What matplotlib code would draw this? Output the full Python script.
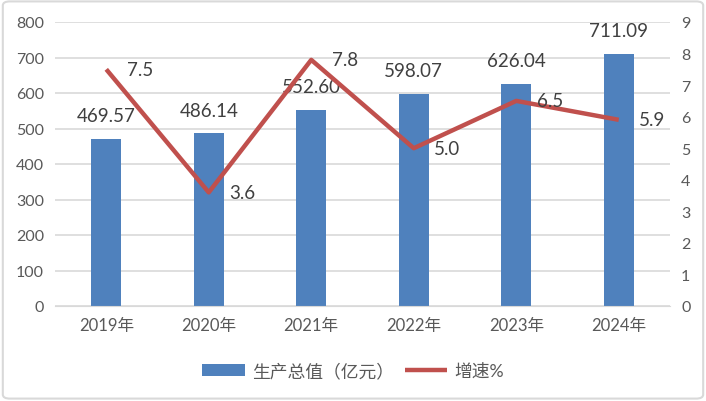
import matplotlib.pyplot as plt
import numpy as np
from matplotlib.patches import FancyBboxPatch

years = ['2019年', '2020年', '2021年', '2022年', '2023年', '2024年']
output = [469.57, 486.14, 552.60, 598.07, 626.04, 711.09]
growth = [7.5, 3.6, 7.8, 5.0, 6.5, 5.9]

plt.rcParams['font.family'] = ['Lato', 'Noto Sans CJK SC', 'DejaVu Sans']
txt = '#404040'
tick_c = '#595959'

fig = plt.figure(figsize=(7.06, 4.02), dpi=100)
ax = fig.add_axes([55/706, 1-307/402, 615/706, 284/402])
x = np.arange(len(years))

ax.bar(x, output, width=0.29, color='#4F81BD', zorder=2, label='生产总值（亿元）')
ax.set_xlim(-0.5, len(years)-0.5)
ax.set_ylim(0, 800)
ax.set_yticks(range(0, 801, 100))
ax.yaxis.grid(True, color='#D9D9D9', lw=1.2, zorder=0)
ax.set_axisbelow(True)
for s in ax.spines.values():
    s.set_visible(False)
ax.spines['bottom'].set_visible(True)
ax.spines['bottom'].set_color('#D9D9D9')
ax.tick_params(length=0, labelsize=11.5, colors=tick_c, pad=8)
ax.set_xticks(x)
ax.set_xticklabels(years, fontsize=12, color=tick_c)
ax.tick_params(axis='x', pad=8)

for xi, v in zip(x, output):
    ax.text(xi, v + 42, f'{v:.2f}', ha='center', va='bottom', fontsize=13.5, color=txt, zorder=4)

ax2 = ax.twinx()
ax2.plot(x, growth, color='#C0504D', lw=3.2, zorder=3, label='增速%', solid_capstyle='butt')
ax2.set_ylim(0, 9)
ax2.set_yticks(range(0, 10))
for s in ax2.spines.values():
    s.set_visible(False)
ax2.tick_params(length=0, labelsize=11.5, colors=tick_c, pad=8)
for xi, v in zip(x, growth):
    ax2.text(xi + 0.2, v, f'{v:.1f}', ha='left', va='center', fontsize=13.5, color=txt, zorder=4)

h1, l1 = ax.get_legend_handles_labels()
h2, l2 = ax2.get_legend_handles_labels()
fig.legend(h1 + h2, l1 + l2, loc='center', bbox_to_anchor=(0.5, 1-372/402), ncol=2,
           frameon=False, fontsize=12.8, labelcolor=tick_c, handlelength=2.4,
           handleheight=0.7, columnspacing=0.6, handletextpad=0.4)

fig.patches.append(FancyBboxPatch((0.004, 0.006), 0.992, 0.988, boxstyle='round,pad=0,rounding_size=0.01',
                                  transform=fig.transFigure, fill=False, ec='#D9D9D9', lw=1.5))

fig.savefig('out.png', dpi=100)
